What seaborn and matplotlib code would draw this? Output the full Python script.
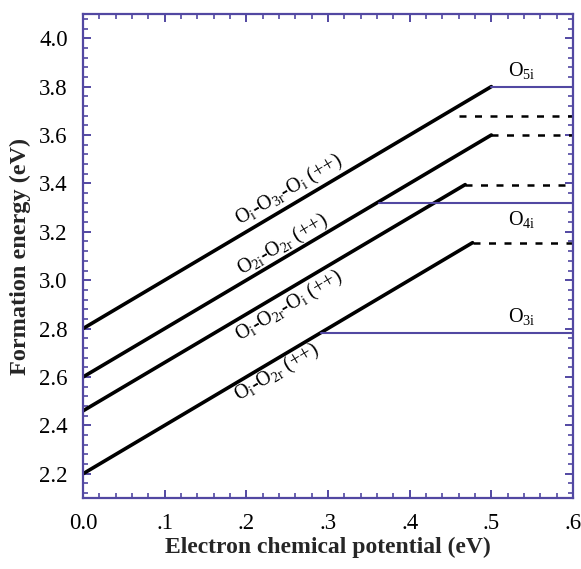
import numpy as np
import pandas as pd
import matplotlib
matplotlib.use("Agg")
import matplotlib.pyplot as plt
import seaborn as sns
from matplotlib.ticker import MultipleLocator, FixedLocator

# ---------------- data ----------------
complex_names = ["Oi-O3r-Oi", "O2i-O2r", "Oi-O2r-Oi", "Oi-O2r"]
start_x = [0.0, 0.0, 0.0, 0.0]
start_y = [2.80, 2.60, 2.46, 2.20]
end_x = [0.500, 0.500, 0.468, 0.477]
end_y = [3.80, 3.60, 3.395, 3.155]

dash_start_x = [0.460, 0.500, 0.468, 0.477]
dash_y = [3.68, 3.60, 3.395, 3.155]

level_names = ["O5i", "O4i", "O3i"]
level_start_x = [0.500, 0.363, 0.292]
level_y = [3.80, 3.32, 2.782]

diag_labels = [
    "O$_\\mathregular{i}$-O$_\\mathregular{3r}$-O$_\\mathregular{i}$ (++)",
    "O$_\\mathregular{2i}$-O$_\\mathregular{2r}$ (++)",
    "O$_\\mathregular{i}$-O$_\\mathregular{2r}$-O$_\\mathregular{i}$ (++)",
    "O$_\\mathregular{i}$-O$_\\mathregular{2r}$ (++)",
]
diag_label_x = [0.252, 0.245, 0.252, 0.237]
diag_label_y = [3.372, 3.146, 2.892, 2.615]

level_labels = ["O$_\\mathregular{5i}$", "O$_\\mathregular{4i}$", "O$_\\mathregular{3i}$"]
level_label_x = [0.537, 0.537, 0.537]
level_label_y = [3.867, 3.252, 2.849]

x_ticks = [0.0, 0.1, 0.2, 0.3, 0.4, 0.5, 0.6]
x_tick_labels = ["0.0", ".1", ".2", ".3", ".4", ".5", ".6"]
y_ticks = [2.2, 2.4, 2.6, 2.8, 3.0, 3.2, 3.4, 3.6, 3.8, 4.0]
y_tick_labels = ["2.2", "2.4", "2.6", "2.8", "3.0", "3.2", "3.4", "3.6", "3.8", "4.0"]

# ---------------- style ----------------
sns.set_style("white")
plt.rcParams["font.family"] = ["Liberation Serif", "DejaVu Serif"]
plt.rcParams["mathtext.fontset"] = "custom"
plt.rcParams["mathtext.rm"] = "Liberation Serif"
plt.rcParams["mathtext.it"] = "Liberation Serif:italic"

BLUE = "#5248a2"

fig = plt.figure(figsize=(5.81, 5.69), dpi=100)
ax = fig.add_axes([83 / 581, 1 - 498 / 569, (573 - 83) / 581, (498 - 14) / 569])

# diagonal lines
rows = []
for i, n in enumerate(complex_names):
    rows.append({"x": start_x[i], "y": start_y[i], "name": n})
    rows.append({"x": end_x[i], "y": end_y[i], "name": n})
diag_df = pd.DataFrame(rows)
sns.lineplot(data=diag_df, x="x", y="y", units="name", estimator=None,
             color="black", linewidth=2.6, ax=ax, legend=False, sort=False)

# dashed levels
drows = []
for i in range(len(dash_y)):
    drows.append({"x": dash_start_x[i], "y": dash_y[i], "k": i})
    drows.append({"x": 0.6, "y": dash_y[i], "k": i})
dash_df = pd.DataFrame(drows)
for k, g in dash_df.groupby("k"):
    sns.lineplot(data=g, x="x", y="y", color="black", linewidth=1.8,
                 ax=ax, legend=False, sort=False, dashes=False,
                 linestyle=(0, (2.8, 3.4)))

# blue solid levels
lrows = []
for i in range(len(level_y)):
    lrows.append({"x": level_start_x[i], "y": level_y[i], "name": level_names[i]})
    lrows.append({"x": 0.6, "y": level_y[i], "name": level_names[i]})
lev_df = pd.DataFrame(lrows)
sns.lineplot(data=lev_df, x="x", y="y", units="name", estimator=None,
             color=BLUE, linewidth=1.5, ax=ax, legend=False, sort=False)

ax.set_xlim(0.0, 0.6)
ax.set_ylim(2.1, 4.1)

# rotation angle of slope-2 lines in display space
fig.canvas.draw()
p0 = ax.transData.transform((0.0, 2.8))
p1 = ax.transData.transform((0.5, 3.8))
angle = np.degrees(np.arctan2(p1[1] - p0[1], p1[0] - p0[0]))

for i, lab in enumerate(diag_labels):
    ax.text(diag_label_x[i], diag_label_y[i], lab, rotation=angle,
            rotation_mode="anchor", ha="center", va="center", fontsize=14.5,
            color="black")

for i, lab in enumerate(level_labels):
    ax.text(level_label_x[i], level_label_y[i], lab, ha="center", va="center",
            fontsize=14.5, color="black")

# axes styling
for s in ax.spines.values():
    s.set_color(BLUE)
    s.set_linewidth(1.6)
    s.set_visible(True)

ax.xaxis.set_major_locator(FixedLocator(x_ticks))
ax.set_xticklabels(x_tick_labels)
ax.xaxis.set_minor_locator(MultipleLocator(0.02))
ax.yaxis.set_major_locator(FixedLocator(y_ticks))
ax.set_yticklabels(y_tick_labels)
ax.yaxis.set_minor_locator(MultipleLocator(0.04))

ax.tick_params(which="both", direction="in", top=True, right=True,
               bottom=True, left=True, color=BLUE, labelsize=16.5,
               labelcolor="black")
ax.tick_params(which="major", length=6, width=1.4, pad=11)
ax.tick_params(which="minor", length=3.5, width=1.2)

ax.set_xlabel("Electron chemical potential (eV)", fontsize=17,
              fontweight="bold", labelpad=2)
ax.set_ylabel("Formation energy (eV)", fontsize=17.5, fontweight="bold",
              labelpad=6)

fig.savefig("out.png", dpi=100)
